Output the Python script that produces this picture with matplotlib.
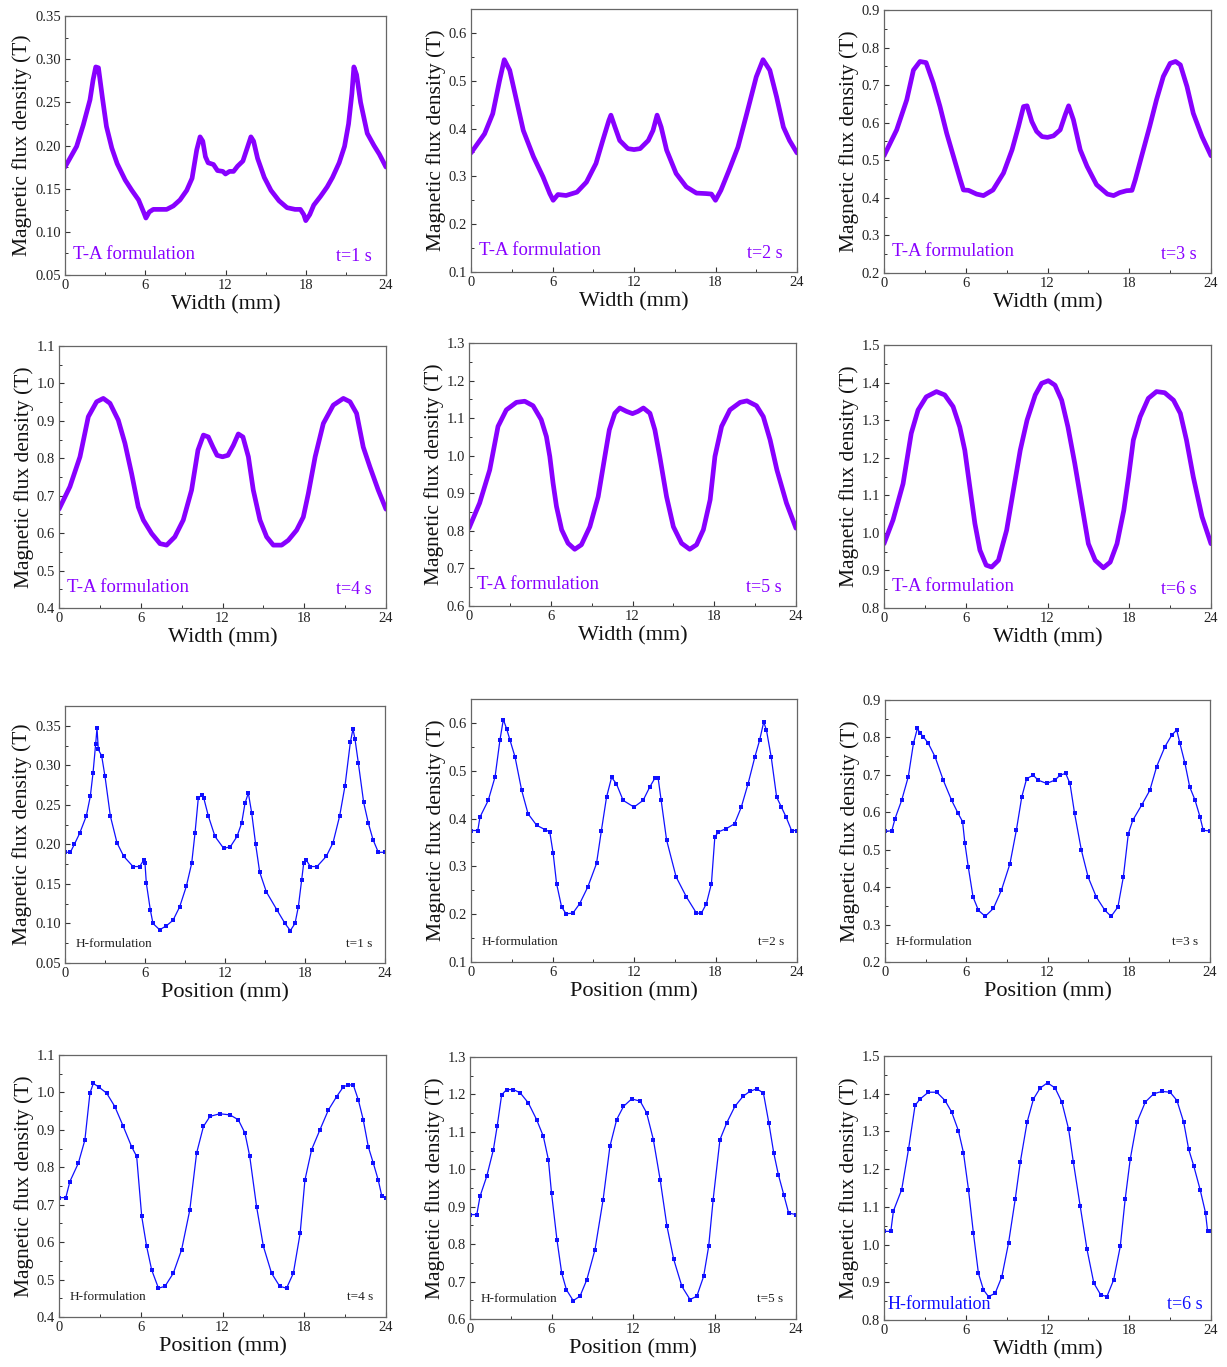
import matplotlib
matplotlib.use("Agg")
import matplotlib.pyplot as plt
from matplotlib.ticker import MultipleLocator, FormatStrFormatter

plt.rcParams['font.family'] = ['Liberation Serif', 'DejaVu Serif']

# ---------------- data ----------------
ta1_x = [0, 0.87, 1.37, 1.87, 2.1, 2.3, 2.5, 2.8, 3.1, 3.5, 3.9, 4.5, 5.0, 5.5, 5.9, 6.05, 6.3, 6.6, 7.1, 7.6, 8.1, 8.6, 9.1, 9.5, 9.85, 10.1, 10.3, 10.5, 10.7, 11.1, 11.4, 11.8, 12.0, 12.3, 12.6, 12.9, 13.3, 13.6, 13.9, 14.1, 14.4, 14.9, 15.4, 16.0, 16.6, 17.2, 17.6, 17.85, 18.0, 18.3, 18.6, 19.1, 19.6, 20.0, 20.5, 20.9, 21.2, 21.45, 21.6, 21.8, 22.1, 22.6, 23.1, 23.5, 24]
ta1_y = [0.175, 0.199, 0.224, 0.253, 0.276, 0.291, 0.29, 0.255, 0.222, 0.197, 0.179, 0.16, 0.148, 0.137, 0.122, 0.116, 0.123, 0.126, 0.126, 0.126, 0.13, 0.137, 0.148, 0.162, 0.195, 0.21, 0.205, 0.187, 0.18, 0.178, 0.171, 0.17, 0.167, 0.17, 0.17, 0.176, 0.182, 0.196, 0.21, 0.205, 0.185, 0.163, 0.148, 0.136, 0.128, 0.126, 0.126, 0.12, 0.113, 0.12, 0.131, 0.141, 0.152, 0.163, 0.18, 0.199, 0.225, 0.26, 0.291, 0.282, 0.25, 0.214, 0.2, 0.19, 0.175]

ta2_x = [0, 1.0, 1.6, 2.1, 2.45, 2.85, 3.35, 3.85, 4.6, 5.3, 5.8, 6.05, 6.4, 7.0, 7.8, 8.5, 9.2, 9.7, 10.15, 10.3, 10.6, 10.95, 11.55, 12.0, 12.45, 13.05, 13.4, 13.7, 14.0, 14.4, 15.1, 15.85, 16.6, 17.3, 17.7, 18.0, 18.4, 19.0, 19.65, 20.3, 21.0, 21.5, 22.0, 22.5, 23.0, 23.45, 24]
ta2_y = [0.349, 0.389, 0.431, 0.5, 0.544, 0.522, 0.459, 0.396, 0.341, 0.299, 0.264, 0.25, 0.262, 0.26, 0.267, 0.288, 0.327, 0.375, 0.417, 0.428, 0.403, 0.375, 0.358, 0.356, 0.358, 0.375, 0.396, 0.428, 0.403, 0.355, 0.306, 0.278, 0.265, 0.264, 0.263, 0.25, 0.271, 0.313, 0.361, 0.431, 0.508, 0.544, 0.522, 0.466, 0.403, 0.375, 0.349]

ta3_x = [0, 0.93, 1.67, 2.16, 2.64, 3.09, 3.62, 4.11, 4.6, 5.1, 5.6, 5.83, 6.2, 6.8, 7.3, 8.0, 8.77, 9.4, 9.87, 10.24, 10.5, 10.85, 11.2, 11.6, 12.0, 12.44, 12.93, 13.3, 13.55, 13.9, 14.4, 14.9, 15.6, 16.4, 16.85, 17.3, 17.8, 18.2, 18.44, 18.9, 19.5, 20.0, 20.5, 21.0, 21.4, 21.75, 22.24, 22.7, 23.34, 24]
ta3_y = [0.512, 0.581, 0.661, 0.74, 0.763, 0.76, 0.705, 0.643, 0.572, 0.51, 0.448, 0.421, 0.42, 0.41, 0.406, 0.421, 0.466, 0.528, 0.59, 0.643, 0.645, 0.603, 0.577, 0.563, 0.561, 0.565, 0.581, 0.621, 0.645, 0.608, 0.528, 0.484, 0.435, 0.41, 0.406, 0.414, 0.419, 0.42, 0.448, 0.51, 0.59, 0.661, 0.723, 0.758, 0.763, 0.754, 0.696, 0.625, 0.563, 0.512]

ta4_x = [0, 0.8, 1.54, 2.15, 2.76, 3.25, 3.74, 4.35, 4.84, 5.33, 5.82, 6.19, 6.8, 7.41, 7.9, 8.5, 9.12, 9.73, 10.2, 10.6, 10.96, 11.3, 11.6, 12.0, 12.4, 12.8, 13.16, 13.5, 13.9, 14.26, 14.75, 15.24, 15.73, 16.34, 16.83, 17.44, 17.93, 18.3, 18.8, 19.4, 20.13, 20.87, 21.36, 21.84, 22.33, 22.82, 23.43, 24]
ta4_y = [0.664, 0.724, 0.804, 0.911, 0.951, 0.96, 0.947, 0.902, 0.84, 0.759, 0.67, 0.635, 0.599, 0.572, 0.568, 0.59, 0.635, 0.715, 0.822, 0.862, 0.857, 0.83, 0.808, 0.804, 0.808, 0.835, 0.865, 0.857, 0.804, 0.715, 0.635, 0.59, 0.568, 0.568, 0.581, 0.608, 0.643, 0.706, 0.804, 0.893, 0.942, 0.96, 0.951, 0.92, 0.83, 0.777, 0.715, 0.664]

ta5_x = [0, 0.78, 1.52, 2.13, 2.74, 3.48, 4.09, 4.7, 5.3, 5.68, 5.93, 6.17, 6.42, 6.8, 7.27, 7.76, 8.25, 8.87, 9.48, 9.97, 10.3, 10.7, 11.07, 11.56, 12.0, 12.4, 12.8, 13.28, 13.64, 14.0, 14.5, 15.0, 15.6, 16.2, 16.7, 17.2, 17.7, 18.05, 18.54, 19.15, 19.9, 20.4, 21.1, 21.6, 22.1, 22.6, 23.3, 24]
ta5_y = [0.807, 0.874, 0.962, 1.078, 1.122, 1.142, 1.145, 1.133, 1.096, 1.051, 0.998, 0.927, 0.865, 0.803, 0.767, 0.751, 0.763, 0.811, 0.891, 0.998, 1.069, 1.113, 1.127, 1.118, 1.112, 1.118, 1.127, 1.113, 1.069, 0.998, 0.891, 0.811, 0.767, 0.751, 0.763, 0.803, 0.883, 0.998, 1.078, 1.122, 1.142, 1.146, 1.133, 1.104, 1.042, 0.962, 0.874, 0.807]

ta6_x = [0, 0.66, 1.4, 2.0, 2.5, 3.1, 3.85, 4.46, 5.07, 5.56, 5.93, 6.3, 6.67, 7.04, 7.5, 7.9, 8.4, 9.0, 9.5, 10.0, 10.5, 11.1, 11.57, 12.06, 12.55, 13.04, 13.5, 14.0, 14.5, 15.0, 15.5, 16.1, 16.6, 17.1, 17.6, 17.95, 18.3, 18.8, 19.4, 20.0, 20.6, 21.25, 21.75, 22.2, 22.7, 23.34, 24]
ta6_y = [0.971, 1.034, 1.131, 1.265, 1.327, 1.362, 1.376, 1.367, 1.336, 1.282, 1.22, 1.122, 1.025, 0.954, 0.914, 0.909, 0.927, 1.007, 1.114, 1.22, 1.3, 1.367, 1.398, 1.405, 1.393, 1.353, 1.282, 1.185, 1.078, 0.971, 0.927, 0.907, 0.922, 0.971, 1.06, 1.149, 1.247, 1.309, 1.358, 1.376, 1.373, 1.353, 1.318, 1.247, 1.149, 1.043, 0.971]

h1_x = [0, 0.4, 0.7, 1.1, 1.6, 1.9, 2.1, 2.3, 2.4, 2.5, 2.75, 3.0, 3.4, 3.9, 4.4, 5.1, 5.6, 5.9, 6.0, 6.1, 6.4, 6.6, 7.1, 7.6, 8.1, 8.6, 9.1, 9.5, 9.75, 10.0, 10.25, 10.4, 10.75, 11.25, 11.9, 12.4, 12.9, 13.25, 13.5, 13.75, 14.0, 14.3, 14.6, 15.1, 15.9, 16.5, 16.9, 17.25, 17.5, 17.75, 17.9, 18.1, 18.4, 18.9, 19.6, 20.1, 20.6, 21.0, 21.4, 21.6, 21.75, 22.0, 22.4, 22.75, 23.1, 23.5, 24]
h1_y = [0.19, 0.19, 0.2, 0.214, 0.236, 0.261, 0.29, 0.327, 0.347, 0.32, 0.312, 0.286, 0.236, 0.202, 0.185, 0.172, 0.172, 0.18, 0.176, 0.151, 0.117, 0.1, 0.092, 0.097, 0.104, 0.121, 0.147, 0.176, 0.214, 0.259, 0.262, 0.259, 0.236, 0.21, 0.195, 0.197, 0.21, 0.227, 0.252, 0.265, 0.24, 0.2, 0.165, 0.14, 0.117, 0.1, 0.091, 0.1, 0.121, 0.155, 0.176, 0.18, 0.172, 0.172, 0.185, 0.202, 0.236, 0.274, 0.329, 0.346, 0.333, 0.303, 0.253, 0.227, 0.206, 0.19, 0.19]

h2_x = [0, 0.5, 0.66, 1.27, 1.77, 2.13, 2.38, 2.62, 2.87, 3.24, 3.73, 4.2, 4.83, 5.44, 5.8, 6.05, 6.3, 6.67, 7.0, 7.5, 8.0, 8.6, 9.24, 9.6, 9.98, 10.35, 10.7, 11.2, 12.0, 12.67, 13.16, 13.53, 13.78, 14.0, 14.4, 15.1, 15.86, 16.6, 16.96, 17.33, 17.7, 17.95, 18.2, 18.8, 19.4, 19.9, 20.4, 20.9, 21.25, 21.55, 21.75, 22.1, 22.5, 22.85, 23.2, 23.6, 24]
h2_y = [0.375, 0.375, 0.403, 0.438, 0.487, 0.564, 0.607, 0.588, 0.564, 0.529, 0.459, 0.41, 0.386, 0.377, 0.372, 0.327, 0.264, 0.215, 0.201, 0.202, 0.222, 0.257, 0.306, 0.375, 0.445, 0.486, 0.473, 0.438, 0.424, 0.438, 0.466, 0.484, 0.484, 0.438, 0.355, 0.278, 0.236, 0.202, 0.202, 0.222, 0.264, 0.361, 0.372, 0.379, 0.389, 0.424, 0.473, 0.529, 0.564, 0.602, 0.585, 0.529, 0.445, 0.424, 0.403, 0.375, 0.375]

h3_x = [0, 0.5, 0.74, 1.23, 1.72, 2.1, 2.39, 2.6, 2.83, 3.2, 3.7, 4.3, 4.92, 5.4, 5.73, 5.9, 6.15, 6.5, 6.9, 7.4, 8.0, 8.6, 9.23, 9.7, 10.1, 10.46, 10.95, 11.3, 11.94, 12.55, 12.92, 13.34, 13.66, 14.0, 14.5, 15.0, 15.6, 16.24, 16.7, 17.2, 17.6, 17.97, 18.3, 18.95, 19.56, 20.06, 20.67, 21.17, 21.54, 21.78, 22.15, 22.5, 22.9, 23.26, 23.5, 24]
h3_y = [0.55, 0.55, 0.583, 0.632, 0.695, 0.784, 0.824, 0.811, 0.802, 0.784, 0.748, 0.686, 0.632, 0.597, 0.575, 0.517, 0.454, 0.374, 0.338, 0.322, 0.343, 0.392, 0.463, 0.552, 0.641, 0.69, 0.699, 0.686, 0.677, 0.686, 0.699, 0.704, 0.677, 0.597, 0.499, 0.427, 0.374, 0.338, 0.322, 0.347, 0.427, 0.543, 0.579, 0.619, 0.659, 0.722, 0.775, 0.806, 0.82, 0.784, 0.731, 0.668, 0.632, 0.588, 0.552, 0.55]

h4_x = [0, 0.5, 0.8, 1.42, 1.9, 2.27, 2.52, 2.9, 3.5, 4.1, 4.72, 5.33, 5.7, 6.07, 6.43, 6.8, 7.3, 7.78, 8.39, 9.0, 9.6, 10.1, 10.6, 11.08, 11.8, 12.55, 13.16, 13.65, 14.0, 14.5, 15.0, 15.6, 16.2, 16.7, 17.2, 17.7, 18.05, 18.54, 19.15, 19.77, 20.38, 20.87, 21.23, 21.6, 21.97, 22.33, 22.7, 23.07, 23.43, 23.7, 24]
h4_y = [0.719, 0.719, 0.762, 0.811, 0.873, 0.998, 1.024, 1.015, 0.998, 0.962, 0.909, 0.855, 0.829, 0.669, 0.589, 0.526, 0.477, 0.482, 0.517, 0.58, 0.686, 0.838, 0.909, 0.936, 0.943, 0.94, 0.927, 0.891, 0.829, 0.695, 0.589, 0.517, 0.482, 0.477, 0.517, 0.624, 0.766, 0.847, 0.9, 0.953, 0.989, 1.015, 1.02, 1.02, 0.98, 0.927, 0.855, 0.811, 0.766, 0.722, 0.719]

h5_x = [0, 0.5, 0.74, 1.23, 1.72, 2.0, 2.33, 2.7, 3.2, 3.7, 4.3, 4.9, 5.4, 5.77, 6.0, 6.4, 6.75, 7.1, 7.6, 8.1, 8.6, 9.2, 9.8, 10.3, 10.8, 11.3, 11.9, 12.53, 13.0, 13.5, 14.0, 14.5, 15.0, 15.6, 16.2, 16.7, 17.2, 17.57, 17.9, 18.4, 18.9, 19.5, 20.1, 20.6, 21.1, 21.6, 22.0, 22.36, 22.7, 23.1, 23.46, 24]
h5_y = [0.879, 0.879, 0.928, 0.981, 1.052, 1.115, 1.199, 1.213, 1.213, 1.204, 1.177, 1.133, 1.088, 1.026, 0.937, 0.812, 0.723, 0.678, 0.649, 0.661, 0.705, 0.785, 0.919, 1.061, 1.133, 1.168, 1.188, 1.182, 1.151, 1.079, 0.972, 0.848, 0.759, 0.687, 0.652, 0.661, 0.714, 0.794, 0.919, 1.079, 1.124, 1.168, 1.195, 1.208, 1.215, 1.204, 1.124, 1.044, 0.986, 0.932, 0.883, 0.879]

h6_x = [0, 0.5, 0.69, 1.3, 1.8, 2.28, 2.65, 3.26, 3.87, 4.48, 4.97, 5.46, 5.83, 6.2, 6.56, 6.93, 7.3, 7.67, 8.16, 8.65, 9.14, 9.63, 10.0, 10.5, 10.97, 11.46, 12.0, 12.56, 13.05, 13.55, 13.9, 14.4, 14.9, 15.4, 15.9, 16.36, 16.85, 17.34, 17.7, 18.07, 18.56, 19.18, 19.8, 20.4, 21.0, 21.5, 22.0, 22.36, 22.73, 23.2, 23.6, 23.75, 24]
h6_y = [1.035, 1.035, 1.089, 1.146, 1.253, 1.369, 1.386, 1.404, 1.404, 1.382, 1.351, 1.302, 1.244, 1.146, 1.031, 0.924, 0.88, 0.862, 0.871, 0.915, 1.004, 1.12, 1.218, 1.324, 1.386, 1.415, 1.429, 1.415, 1.378, 1.306, 1.218, 1.102, 0.987, 0.898, 0.867, 0.862, 0.906, 0.995, 1.12, 1.226, 1.324, 1.378, 1.4, 1.406, 1.404, 1.382, 1.324, 1.253, 1.209, 1.146, 1.084, 1.035, 1.035]

time_labels = ["t=1 s", "t=2 s", "t=3 s", "t=4 s", "t=5 s", "t=6 s"]
ylims = [(0.05, 0.35), (0.1, 0.65), (0.2, 0.9), (0.4, 1.1), (0.6, 1.3), (0.8, 1.5),
         (0.05, 0.375), (0.1, 0.65), (0.2, 0.9), (0.4, 1.1), (0.6, 1.3), (0.8, 1.5)]
ystep = [0.05, 0.1, 0.1, 0.1, 0.1, 0.1, 0.05, 0.1, 0.1, 0.1, 0.1, 0.1]
x_ticks = [0, 6, 12, 18, 24]
xlabels = ["Width (mm)"] * 6 + ["Position (mm)"] * 5 + ["Width (mm)"]
ylabel = "Magnetic flux density (T)"

# ---------------- layout (pixel boxes: left, top, right, bottom) ----------------
W, H = 1227, 1367
boxes = [(65, 16, 386, 275), (471, 9, 797, 272), (884, 10, 1211, 273),
         (59, 346, 386, 608), (469, 343, 796, 606), (884, 345, 1211, 608),
         (65, 706, 385, 963), (471, 699, 797, 962), (885, 700, 1210, 962),
         (59, 1055, 386, 1317), (470, 1057, 796, 1319), (884, 1056, 1211, 1320)]

TA_COLOR = '#8800ff'
H_COLOR = '#1010ff'

series = [(ta1_x, ta1_y), (ta2_x, ta2_y), (ta3_x, ta3_y), (ta4_x, ta4_y), (ta5_x, ta5_y), (ta6_x, ta6_y),
          (h1_x, h1_y), (h2_x, h2_y), (h3_x, h3_y), (h4_x, h4_y), (h5_x, h5_y), (h6_x, h6_y)]

fig = plt.figure(figsize=(W / 100, H / 100), dpi=100)

for i, (box, (xs, ys)) in enumerate(zip(boxes, series)):
    l, t, r, b = box
    ax = fig.add_axes([l / W, 1 - b / H, (r - l) / W, (b - t) / H])
    if i < 6:
        ax.plot(xs, ys, color=TA_COLOR, lw=3.4, solid_capstyle='round', solid_joinstyle='round')
    else:
        ax.plot(xs, ys, color=H_COLOR, lw=0.9, marker='s', markersize=2.8,
                markeredgewidth=0, markerfacecolor=H_COLOR)
    ax.set_xlim(0, 24)
    ax.set_ylim(*ylims[i])
    ax.set_xticks(x_ticks)
    ax.xaxis.set_minor_locator(MultipleLocator(3))
    ax.yaxis.set_major_locator(MultipleLocator(ystep[i]))
    ax.yaxis.set_minor_locator(MultipleLocator(ystep[i] / 2))
    ax.yaxis.set_major_formatter(FormatStrFormatter('%.2f' if ystep[i] < 0.1 else '%.1f'))
    ax.tick_params(which='both', direction='in', top=False, right=False,
                   labelsize=10.5, colors='#333333', labelcolor='#222222', pad=3)
    ax.tick_params(which='major', length=3.5, width=0.8)
    ax.tick_params(which='minor', length=2.5, width=0.7)
    for sp in ax.spines.values():
        sp.set_color('#666666')
        sp.set_linewidth(0.9)
    ax.set_xlabel(xlabels[i], fontsize=16, labelpad=2, color='#111111')
    ax.set_ylabel(ylabel, fontsize=15.5, labelpad=2, color='#111111')

    k = i % 6
    if i < 6:
        ax.text(0.025, 0.08, "T-A formulation", transform=ax.transAxes, fontsize=13.5,
                color=TA_COLOR, ha='left', va='center')
        ax.text(0.955, 0.07, time_labels[k], transform=ax.transAxes, fontsize=13,
                color=TA_COLOR, ha='right', va='center')
    elif i < 11:
        ax.text(0.032, 0.075, "H-formulation", transform=ax.transAxes, fontsize=9.5,
                color='#222222', ha='left', va='center')
        ax.text(0.962, 0.075, time_labels[k], transform=ax.transAxes, fontsize=9.5,
                color='#222222', ha='right', va='center')
    else:
        ax.text(0.012, 0.06, "H-formulation", transform=ax.transAxes, fontsize=13,
                color=H_COLOR, ha='left', va='center')
        ax.text(0.975, 0.06, time_labels[k], transform=ax.transAxes, fontsize=13,
                color=H_COLOR, ha='right', va='center')

fig.savefig("out.png", dpi=100, facecolor='white')
